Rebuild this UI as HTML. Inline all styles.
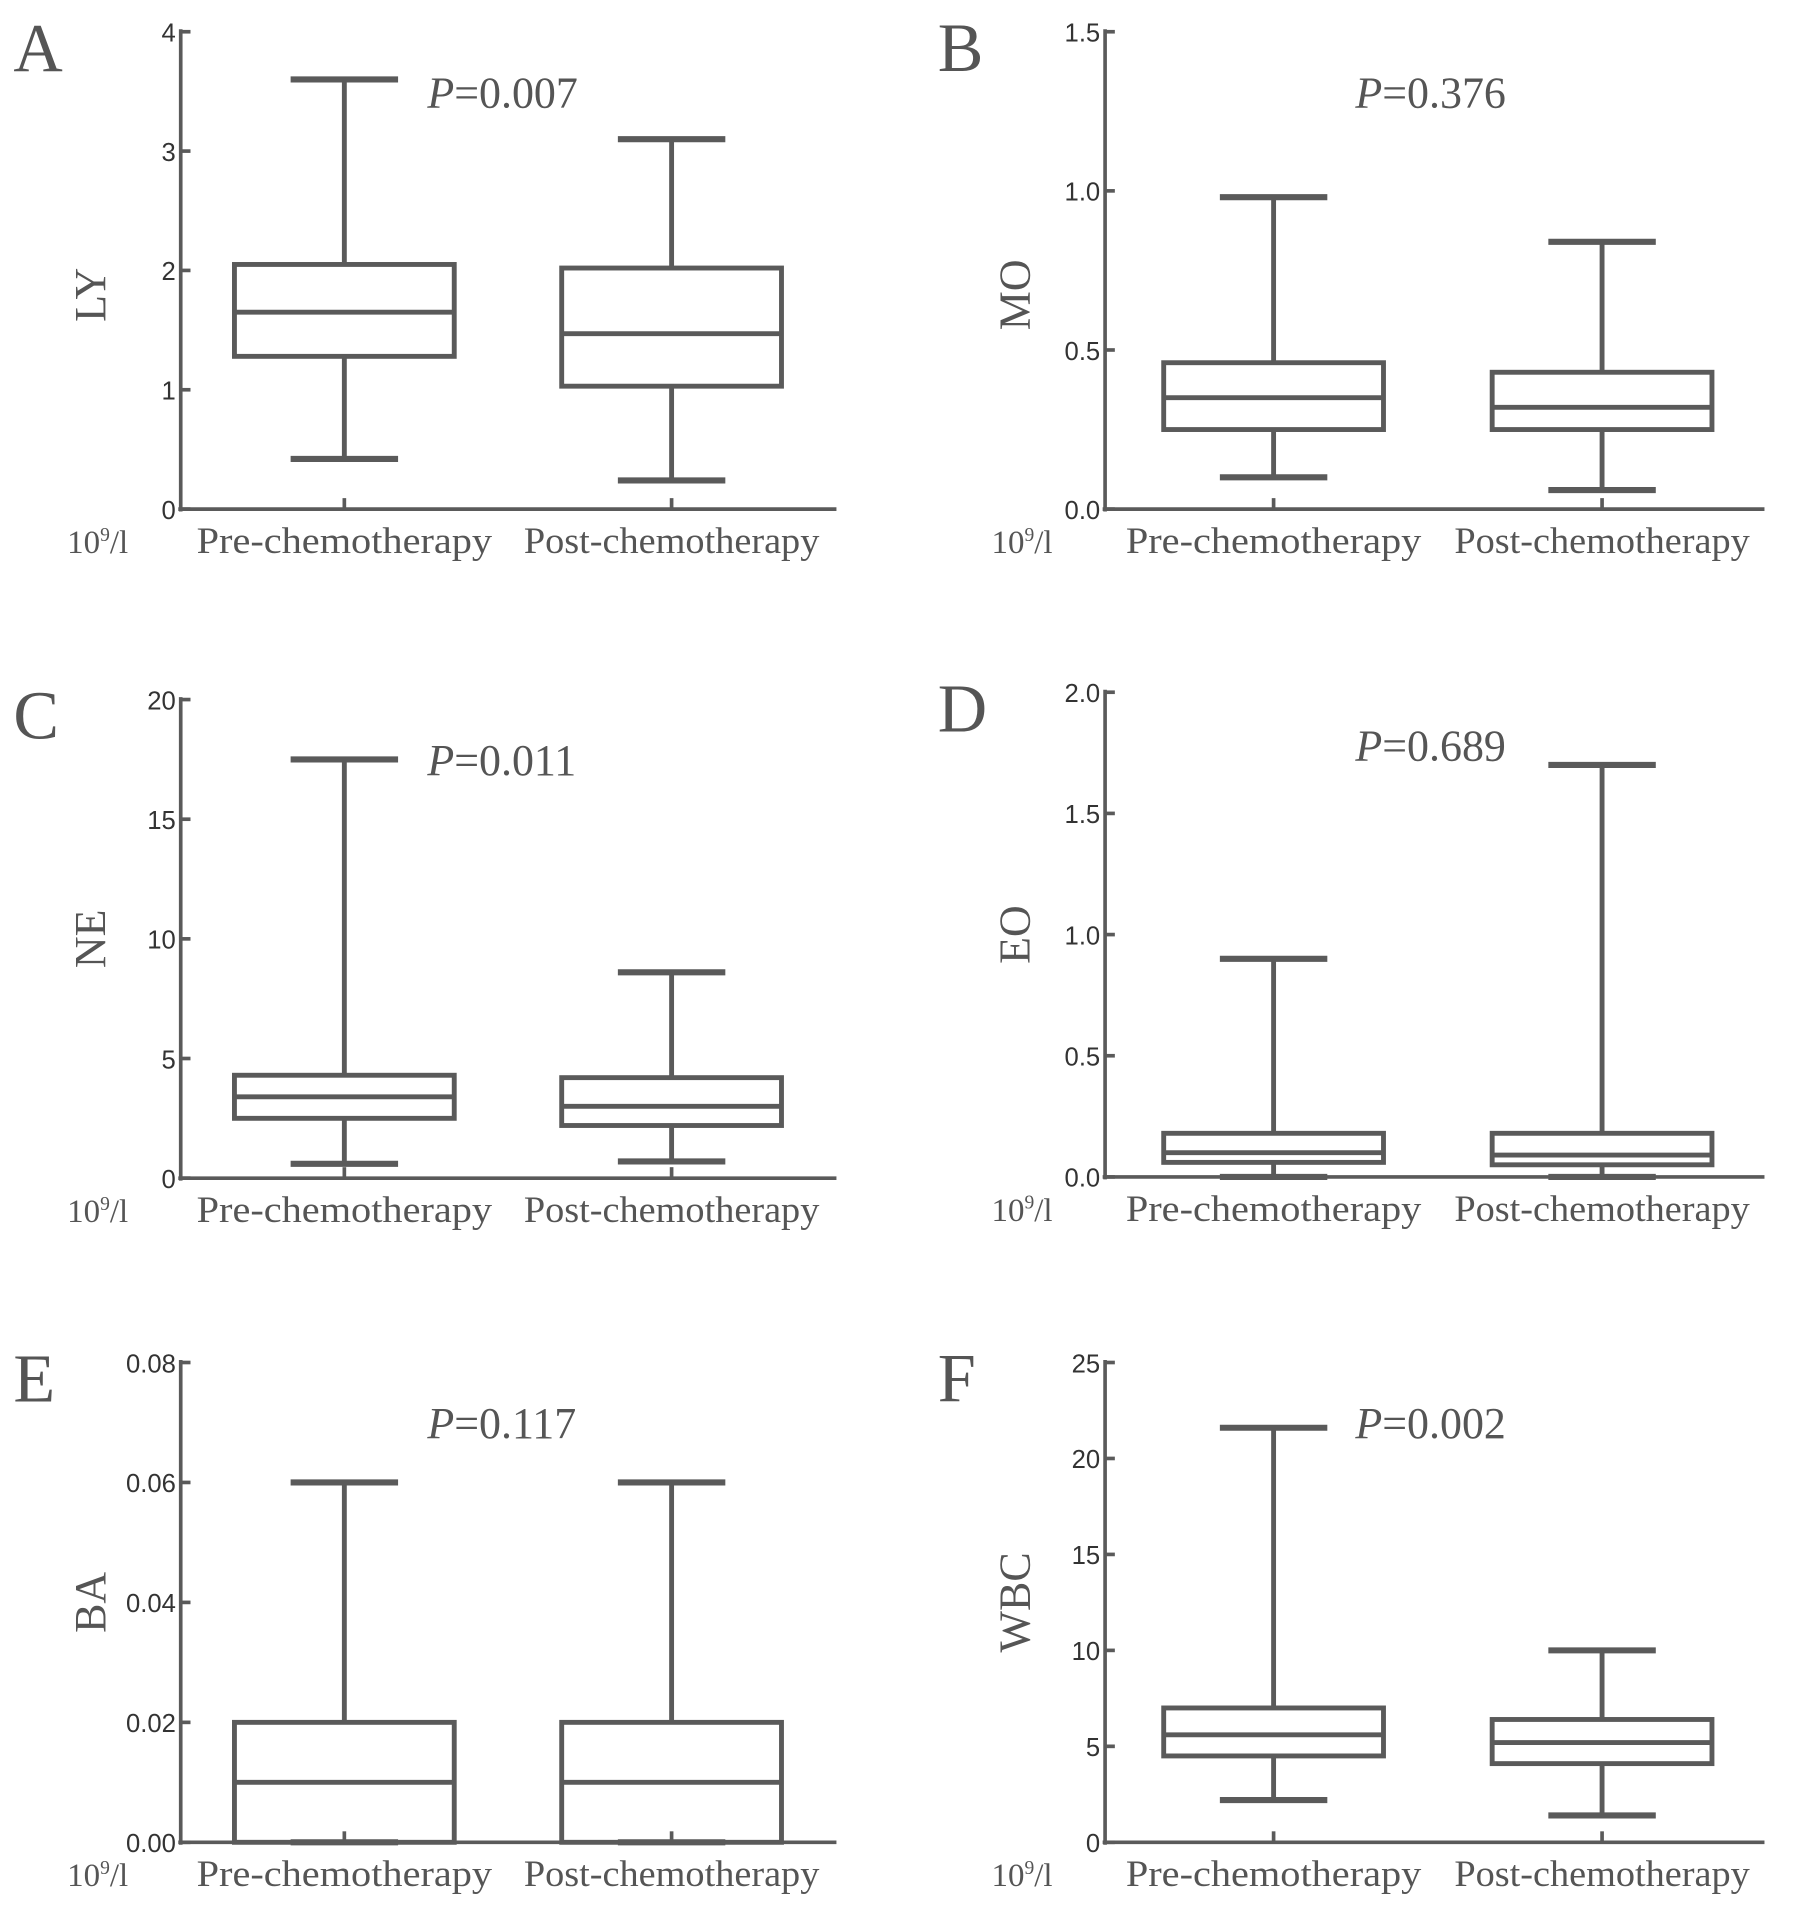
<!DOCTYPE html>
<html><head><meta charset="utf-8"><style>
html,body{margin:0;padding:0;background:#fff;}
svg{display:block;}
.tk{font-family:"Liberation Sans",sans-serif;font-size:21px;fill:#333;}
.sf{font-family:"Liberation Serif",serif;fill:#555;}
</style></head><body>
<svg id="fig" width="1795" height="1918" viewBox="0 0 1470 1571" preserveAspectRatio="none" xmlns="http://www.w3.org/2000/svg"></svg>
<script>
const panelLetters=["A","B","C","D","E","F"];
const yLabels=["LY","MO","NE","EO","BA","WBC"];
const pValues=["0.007","0.376","0.011","0.689","0.117","0.002"];
const categories=["Pre-chemotherapy","Post-chemotherapy"];
const yMax=[4,1.5,20,2.0,0.08,25];
const tickStep=[1,0.5,5,0.5,0.02,5];
const tickDecimals=[0,1,0,1,2,0];
// [max,q3,median,q1,min]
const preStats=[[3.6,2.05,1.65,1.28,0.42],[0.98,0.46,0.35,0.25,0.1],[17.5,4.3,3.4,2.5,0.6],[0.9,0.18,0.1,0.06,0.0],[0.06,0.02,0.01,0,0],[21.6,7.0,5.6,4.5,2.2]];
const postStats=[[3.1,2.02,1.47,1.03,0.24],[0.84,0.43,0.32,0.25,0.06],[8.6,4.2,3.0,2.2,0.7],[1.7,0.18,0.09,0.05,0.0],[0.06,0.02,0.01,0,0],[10,6.4,5.2,4.1,1.4]];

const L={ax:[148,905,148,905,148,905],top:[26,26,573,567,1116,1116],bot:[417,417,965,964,1509,1509]};
const svg=document.getElementById('fig');
const NS="http://www.w3.org/2000/svg";
const C="#5a5a5a";
function mk(t,a,txt){const e=document.createElementNS(NS,t);for(const k in a)e.setAttribute(k,a[k]);if(txt!==undefined)e.textContent=txt;svg.appendChild(e);return e;}
function line(x1,y1,x2,y2,w){return mk('line',{x1,y1,x2,y2,stroke:C,'stroke-width':w||4});}

for(let p=0;p<6;p++){
  const ax=L.ax[p],top=L.top[p],bot=L.bot[p],right=p%2==1;
  const xEnd=ax+(right?540:537);
  const y=v=>bot-(v/yMax[p])*(bot-top);
  const xc=right?[ax+138,ax+407]:[ax+134,ax+402];
  let e;
  e=mk('text',{x:ax-137,y:top+32,class:'sf','font-size':56,fill:'#222'},panelLetters[p]);
  
  
  e=line(ax,top-2,ax,bot+2,3);
  
  
  e=line(ax-2,bot,xEnd,bot,3);
  
  
  for(let v=0;v<=yMax[p]+1e-9;v+=tickStep[p]){
    line(ax,y(v),ax+8,y(v),3);
    e=mk('text',{x:ax-4,y:y(v)+8,class:'tk','text-anchor':'end'},v.toFixed(tickDecimals[p]));
    
    
  }
  const yc=(top+bot)/2+(p<2?20:0);
  e=mk('text',{x:0,y:0,class:'sf','font-size':36,'text-anchor':'middle',transform:`translate(${ax-62},${yc}) rotate(-90)`},yLabels[p]);
  
  
  e=mk('text',{x:ax-93,y:bot+36,class:'sf','font-size':27},'10');
  const sup=document.createElementNS(NS,'tspan');sup.setAttribute('dy','-10');sup.setAttribute('font-size','16');sup.textContent='9';e.appendChild(sup);
  const t2=document.createElementNS(NS,'tspan');t2.setAttribute('dy','10');t2.textContent='/l';e.appendChild(t2);
  
  
  e=mk('text',{x:ax+(right?205:202),y:top+62+(p==3?-6:0),class:'sf','font-size':36},'');
  const ip=document.createElementNS(NS,'tspan');ip.setAttribute('font-style','italic');ip.textContent='P';e.appendChild(ip);
  const iv=document.createElementNS(NS,'tspan');iv.textContent='='+pValues[p];e.appendChild(iv);
  
  
  [preStats[p],postStats[p]].forEach((s,i)=>{
    const cx=xc[i];
    line(cx,bot,cx,bot-9,3);
    e=mk('text',{x:cx,y:bot+36,class:'sf','font-size':30,'text-anchor':'middle',textLength:242,lengthAdjust:'spacingAndGlyphs'},categories[i]);
    
    
    line(cx,y(s[0]),cx,y(s[1]));
    line(cx,y(s[3]),cx,y(s[4]));
    e=line(cx-44,y(s[0]),cx+44,y(s[0]),5);
    
    
    e=line(cx-44,y(s[4]),cx+44,y(s[4]),5);
    
    
    e=mk('rect',{x:cx-90,y:y(s[1]),width:180,height:Math.max(0,y(s[3])-y(s[1])),fill:'none',stroke:C,'stroke-width':4});
    
    
    e=line(cx-90,y(s[2]),cx+90,y(s[2]));
    
    
  });
}
</script>
</body></html>
